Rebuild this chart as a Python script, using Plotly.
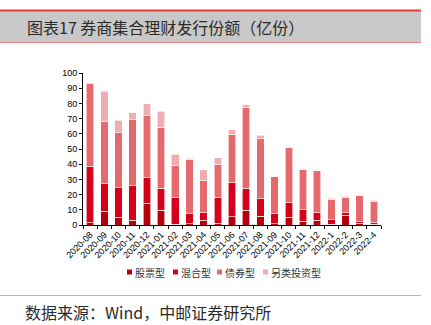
import plotly.graph_objects as go

# Monthly issuance of broker collective wealth products (100 million units)
months = ["2020-08", "2020-09", "2020-10", "2020-11", "2020-12", "2021-01", "2021-02",
          "2021-03", "2021-04", "2021-05", "2021-06", "2021-07", "2021-08", "2021-09",
          "2021-10", "2021-11", "2021-12", "2022-1", "2022-2", "2022-3", "2022-4"]
stock = [1.5, 9.0, 5.0, 3.0, 14.2, 9.8, 0.5, 0.7, 3.0, 1.3, 5.3, 9.6, 5.9, 0.7,
         5.0, 2.6, 3.1, 0.6, 6.3, 1.0, 0.6]
mixed = [37.2, 18.1, 19.5, 22.8, 16.8, 14.3, 17.5, 6.7, 4.9, 17.1, 22.5, 14.7, 11.4, 7.0,
         9.7, 7.4, 5.0, 2.9, 1.8, 1.2, 0.9]
bond = [54.3, 40.7, 36.1, 43.6, 40.8, 40.2, 21.0, 35.7, 21.2, 21.6, 31.5, 52.7, 39.4, 24.3,
        36.1, 26.3, 27.8, 13.6, 10.1, 17.1, 13.8]
alternative = [0.7, 20.2, 8.3, 4.6, 8.1, 10.7, 7.6, 0.7, 7.2, 4.2, 3.5, 2.2, 2.2, 0.2,
               0.4, 0.5, 0.2, 0.4, 0.6, 0.4, 0.9]
series_names = ["股票型", "混合型", "债券型", "另类投资型"]
series_values = [stock, mixed, bond, alternative]
series_colors = ["#B5000E", "#D7001A", "#E66A6D", "#F0ADB1"]
y_ticks = list(range(0, 101, 10))

W, H = 431, 325
L, R, T, B = 83, 50, 73, 100
PW, PH = W - L - R, H - T - B


def px_x(x):
    return (x - L) / PW


def px_y(y):
    return (H - B - y) / PH


fig = go.Figure()
for name, vals, col in zip(series_names, series_values, series_colors):
    fig.add_trace(go.Bar(x=months, y=vals, name=name, marker_color=col,
                         marker_line=dict(color="white", width=0.6),
                         showlegend=False))

shapes = []
annotations = []

# title banner
shapes.append(dict(type="rect", xref="paper", yref="paper",
                   x0=px_x(0), x1=px_x(421), y0=px_y(43), y1=px_y(10),
                   fillcolor="#C8C8C8", line_width=0, layer="below"))
shapes.append(dict(type="line", xref="paper", yref="paper",
                   x0=px_x(0), x1=px_x(421), y0=px_y(10.5), y1=px_y(10.5),
                   line=dict(color="#E23A3F", width=2)))
shapes.append(dict(type="line", xref="paper", yref="paper",
                   x0=px_x(0), x1=px_x(421), y0=px_y(42.5), y1=px_y(42.5),
                   line=dict(color="#E98088", width=1)))
annotations.append(dict(text="图表17 券商集合理财发行份额（亿份）", xref="paper", yref="paper",
                        x=px_x(25), y=px_y(27), xanchor="left", yanchor="middle",
                        showarrow=False,
                        font=dict(family="Noto Sans CJK SC", size=16, color="#2a2a2a")))

# source line
shapes.append(dict(type="line", xref="paper", yref="paper",
                   x0=px_x(0), x1=px_x(421), y0=px_y(295.5), y1=px_y(295.5),
                   line=dict(color="#F0A0A5", width=1)))
annotations.append(dict(text="数据来源：Wind，中邮证券研究所", xref="paper", yref="paper",
                        x=px_x(23), y=px_y(312), xanchor="left", yanchor="middle",
                        showarrow=False,
                        font=dict(family="Noto Sans CJK SC", size=16, color="#2a2a2a")))

# legend
legend_x = [127, 173, 217, 263]
legend_y = 272
for name, col, lx in zip(series_names, series_colors, legend_x):
    shapes.append(dict(type="rect", xref="paper", yref="paper",
                       x0=px_x(lx), x1=px_x(lx + 5), y0=px_y(legend_y + 2.5),
                       y1=px_y(legend_y - 2.5), fillcolor=col, line_width=0))
    annotations.append(dict(text=name, xref="paper", yref="paper",
                            x=px_x(lx + 6), y=px_y(legend_y), xanchor="left",
                            yanchor="middle", showarrow=False,
                            font=dict(family="Noto Sans CJK SC", size=10, color="#333333")))

fig.update_layout(
    width=W, height=H, barmode="stack", bargap=0.47,
    margin=dict(l=L, r=R, t=T, b=B),
    paper_bgcolor="white", plot_bgcolor="white",
    font=dict(family="Liberation Sans", size=9, color="#000000"),
    shapes=shapes, annotations=annotations,
    xaxis=dict(type="category", tickangle=-45, showgrid=False, showline=True,
               linecolor="#000000", linewidth=1, ticks="outside", tickson="boundaries",
               ticklen=3, tickcolor="#000000", tickfont=dict(size=9)),
    yaxis=dict(range=[0, 100], tickvals=y_ticks, showgrid=False, showline=True,
               linecolor="#000000", linewidth=1, ticks="outside", ticklen=3,
               tickcolor="#000000", tickfont=dict(size=9), zeroline=False),
)

fig.write_html("out.html")
